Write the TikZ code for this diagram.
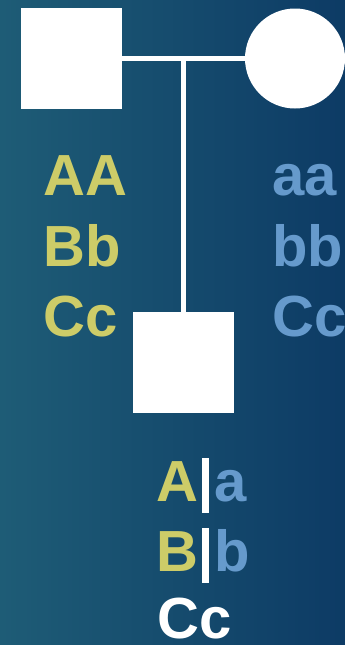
\documentclass[tikz,border=0pt]{standalone}
\usepackage{fontspec}
\setmainfont{Liberation Sans}
\newfontfamily\genefont{Liberation Sans Bold}
\definecolor{bgleft}{RGB}{30,92,118}
\definecolor{bgright}{RGB}{13,59,101}
\definecolor{domcol}{RGB}{205,204,104}
\definecolor{reccol}{RGB}{102,154,204}
\tikzset{
  x=1pt, y=-1pt,
  malebox/.style={fill=white, draw=none, minimum size=101pt, inner sep=0pt},
  femalebox/.style={circle, fill=white, draw=none, minimum size=100pt, inner sep=0pt},
  link/.style={draw=white, line width=5pt},
  gene/.style={anchor=base west, inner sep=0pt, text depth=0pt,
    font=\genefont\fontsize{58}{58}\selectfont},
  dom/.style={gene, text=domcol},
  rec/.style={gene, text=reccol},
  plain/.style={gene, text=white},
  divider/.style={draw=white, line width=7pt}
}
\begin{document}
\begin{tikzpicture}
  % background
  \shade[left color=bgleft, right color=bgright] (0,0) rectangle (345,645);
  \useasboundingbox (0,0) rectangle (345,645);

  % parents and child
  \node[malebox] (father) at (71.5,58.5) {};
  \node[femalebox] (mother) at (295,58.5) {};
  \node[malebox] (child) at (183.5,362.5) {};
  \coordinate (mating) at (183.5,58.5);

  \draw[link] (father.east) -- (mother.west);
  \draw[link] (mating) -- (mating |- child.north);

  % father's genotype
  \node[dom] (fA) at (43,195) {AA};
  \node[dom] (fB) at (43,266) {Bb};
  \node[dom] (fC) at (43,336) {Cc};

  % mother's genotype
  \node[rec] (mA) at (272,195) {aa};
  \node[rec] (mB) at (272,266) {bb};
  \node[rec] (mC) at (272,336) {Cc};

  % child's genotype
  \node[dom] (cA1) at (156,501) {A};
  \node[rec] (cA2) at (214,501) {a};
  \node[dom] (cB1) at (156,571) {B};
  \node[rec] (cB2) at (214,571) {b};
  \node[plain] (cC) at (157,638) {Cc};
  \draw[divider] (205.5,458) -- (205.5,513);
  \draw[divider] (205.5,528) -- (205.5,583);
\end{tikzpicture}
\end{document}
